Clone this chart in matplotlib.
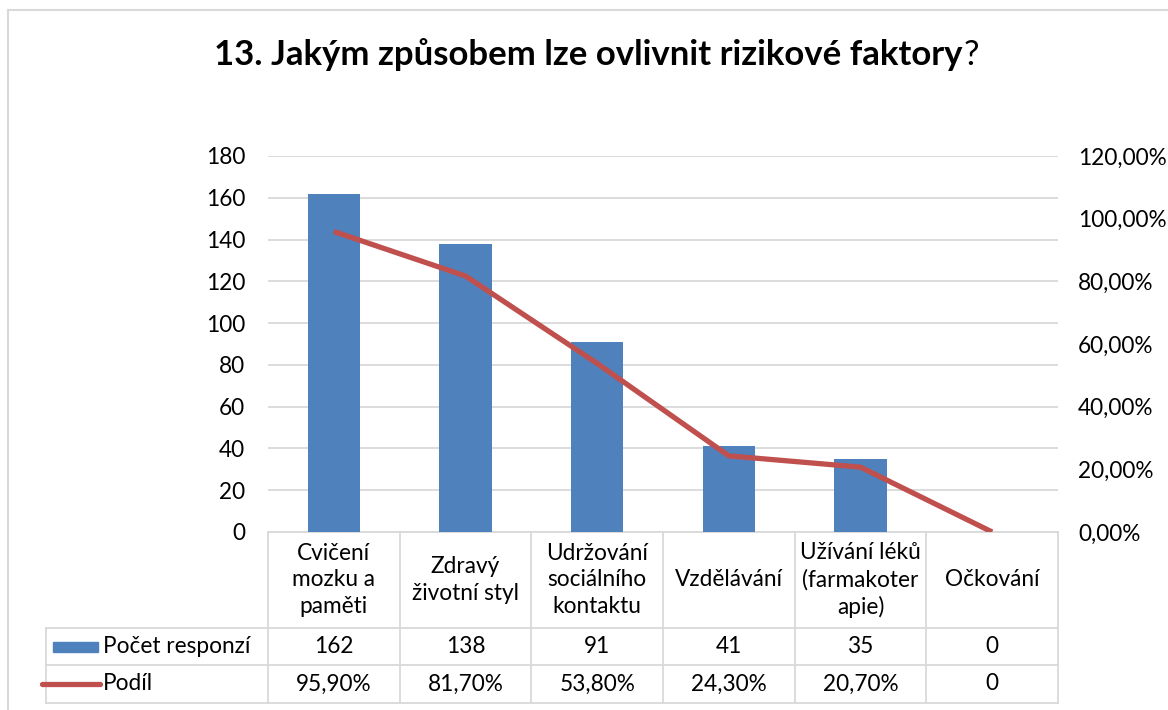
import matplotlib
matplotlib.use("Agg")
import matplotlib.pyplot as plt
from matplotlib.lines import Line2D
from matplotlib.patches import Rectangle
from matplotlib.ticker import FuncFormatter, MultipleLocator

categories = ["Cvičení\nmozku a\npaměti", "Zdravý\nživotní styl", "Udržování\nsociálního\nkontaktu",
              "Vzdělávání", "Užívání léků\n(farmakoter\napie)", "Očkování"]
counts = [162, 138, 91, 41, 35, 0]
shares = [0.959, 0.817, 0.538, 0.243, 0.207, 0.0]
count_labels = ["162", "138", "91", "41", "35", "0"]
share_labels = ["95,90%", "81,70%", "53,80%", "24,30%", "20,70%", "0"]
series_names = ["Počet responzí", "Podíl"]
title_bold = "13. Jakým způsobem lze ovlivnit rizikové faktory"
title_tail = "?"

BLUE = "#4F81BD"
RED = "#C0504D"
GRID = "#D9D9D9"
FONT = "Lato"
FS = 16.3

W, H = 1168, 710
fig = plt.figure(figsize=(W / 100, H / 100), dpi=100)
plt.rcParams['font.family'] = [FONT, 'DejaVu Sans']

# plot area in pixels
x0, x1 = 268, 1058
y_top, y_bot = 156, 532
ax = fig.add_axes([x0 / W, 1 - y_bot / H, (x1 - x0) / W, (y_bot - y_top) / H])
ax2 = ax.twinx()

n = len(categories)
xs = list(range(n))
ax.set_xlim(-0.5, n - 0.5)
ax.set_ylim(0, 180)
ax2.set_ylim(0, 1.2)

ax.bar(xs, counts, width=0.40, color=BLUE, zorder=3)
ax2.plot(xs, shares, color=RED, lw=3.8, solid_capstyle='butt', solid_joinstyle='round', zorder=4)

ax.yaxis.set_major_locator(MultipleLocator(20))
ax2.yaxis.set_major_locator(MultipleLocator(0.2))
ax2.yaxis.set_major_formatter(FuncFormatter(lambda v, p: f"{v*100:.2f}%".replace(".", ",")))
for a in (ax, ax2):
    for s in a.spines.values():
        s.set_visible(False)
    a.tick_params(length=0, labelsize=FS, colors="black")
ax.tick_params(axis='y', pad=16.5)
ax2.tick_params(axis='y', pad=14.4)
ax.set_xticks([])
ax2.set_xticks([])
ax.grid(axis='y', color=GRID, lw=1.3, zorder=0)
ax.set_axisbelow(True)
ax.patch.set_visible(False)

# ---- data table below the axes ----
trans = ax.get_xaxis_transform()
ppx = (x1 - x0) / n  # pixels per category
def dx(px):
    return -0.5 + (px - x0) / ppx
def ay(py):
    return (y_bot - py) / (y_bot - y_top)

r0, r1, r2, r3 = ay(532), ay(628), ay(665), ay(703)
left_px = 46
lk = dict(color=GRID, lw=1.3, transform=trans, clip_on=False, zorder=1)
ax.add_line(Line2D([-0.5, n - 0.5], [r0, r0], **lk))
for r in (r1, r2, r3):
    ax.add_line(Line2D([dx(left_px), n - 0.5], [r, r], **lk))
for i in range(n + 1):
    ax.add_line(Line2D([i - 0.5, i - 0.5], [r0, r3], **lk))
ax.add_line(Line2D([dx(left_px), dx(left_px)], [r1, r3], **lk))

for i, c in enumerate(categories):
    ax.text(i, (r0 + r1) / 2, c, transform=trans, ha='center', va='center',
            fontsize=FS, linespacing=1.32, clip_on=False)
    ax.text(i, (r1 + r2) / 2, count_labels[i], transform=trans, ha='center', va='center',
            fontsize=FS, clip_on=False)
    ax.text(i, (r2 + r3) / 2, share_labels[i], transform=trans, ha='center', va='center',
            fontsize=FS, clip_on=False)

# legend keys in the table
ax.add_patch(Rectangle((dx(53), ay(652)), dx(98) - dx(53), ay(642) - ay(652), transform=trans,
                       color=BLUE, clip_on=False))
ax.add_line(Line2D([dx(42), dx(100)], [(r2 + r3) / 2] * 2, color=RED, lw=3.8,
                   solid_capstyle='round', transform=trans, clip_on=False))
ax.text(dx(103), (r1 + r2) / 2, series_names[0], transform=trans, ha='left', va='center',
        fontsize=FS, clip_on=False)
ax.text(dx(103), (r2 + r3) / 2, series_names[1], transform=trans, ha='left', va='center',
        fontsize=FS, clip_on=False)

# chart frame
fig.add_artist(Line2D([8 / W, 8 / W], [0, 1 - 10 / H], color=GRID, lw=1.5))
fig.add_artist(Line2D([8 / W, 1], [1 - 10 / H, 1 - 10 / H], color=GRID, lw=1.5))

# title: bold part + regular '?'
TFS = 25
t1 = fig.text(218 / W, 1 - 55 / H, title_bold, fontsize=TFS, fontweight='bold', ha='left', va='center')
fig.canvas.draw()
bb = t1.get_window_extent()
total_w = bb.width + 16
cx = 596
t1.set_x((cx - total_w / 2) / W)
fig.canvas.draw()
ax.annotate(title_tail, xy=(1, 0.5), xycoords=t1, xytext=(1, 0), textcoords='offset points',
            ha='left', va='center', fontsize=TFS, annotation_clip=False)

fig.savefig("out.png", dpi=100)
